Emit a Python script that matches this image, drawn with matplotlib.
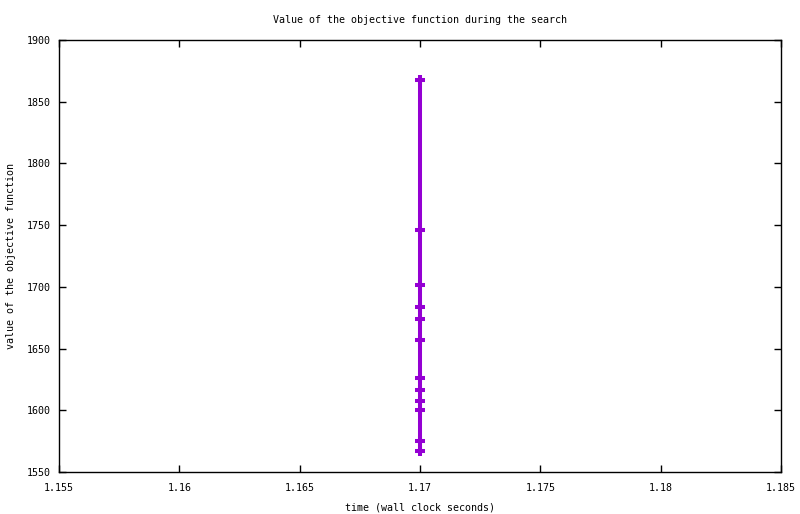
import matplotlib
matplotlib.use('Agg')
import matplotlib.pyplot as plt
from matplotlib.ticker import FixedLocator, FuncFormatter

tempo = [1.17] * 12
objetivo = [1867.8, 1746.3, 1701.7, 1683.9, 1674.1, 1657.1,
            1625.8, 1616.6, 1607.7, 1600.4, 1575.2, 1567.2]
xticks = [1.155, 1.16, 1.165, 1.17, 1.175, 1.18, 1.185]
yticks = [1550, 1600, 1650, 1700, 1750, 1800, 1850, 1900]

plt.rcParams['font.family'] = 'DejaVu Sans Mono'
plt.rcParams['font.size'] = 7.2

fig = plt.figure(figsize=(8, 5.14), dpi=100)
ax = fig.add_axes([59/800, 1 - 472/514, (781-59)/800, (472-40)/514])
ax.plot(tempo, objetivo, color='#9400d3', linewidth=2.9, marker='+',
        markersize=7.5, markeredgewidth=2.9)
ax.set_xlim(1.155, 1.185)
ax.set_ylim(1550, 1900)
ax.xaxis.set_major_locator(FixedLocator(xticks))
ax.yaxis.set_major_locator(FixedLocator(yticks))
ax.xaxis.set_major_formatter(FuncFormatter(lambda v, p: '%g' % round(v, 3)))
ax.tick_params(direction='in', length=5, width=1, top=True, right=True,
               labelsize=7.2)
ax.tick_params(axis='x', pad=8)
ax.tick_params(axis='y', pad=6)
for s in ax.spines.values():
    s.set_linewidth(1)
ax.set_title('Value of the objective function during the search',
             fontsize=7.2, pad=12)
ax.set_xlabel('time (wall clock seconds)', labelpad=7)
ax.set_ylabel('value of the objective function', labelpad=8)
plt.savefig('out.png', dpi=100)
